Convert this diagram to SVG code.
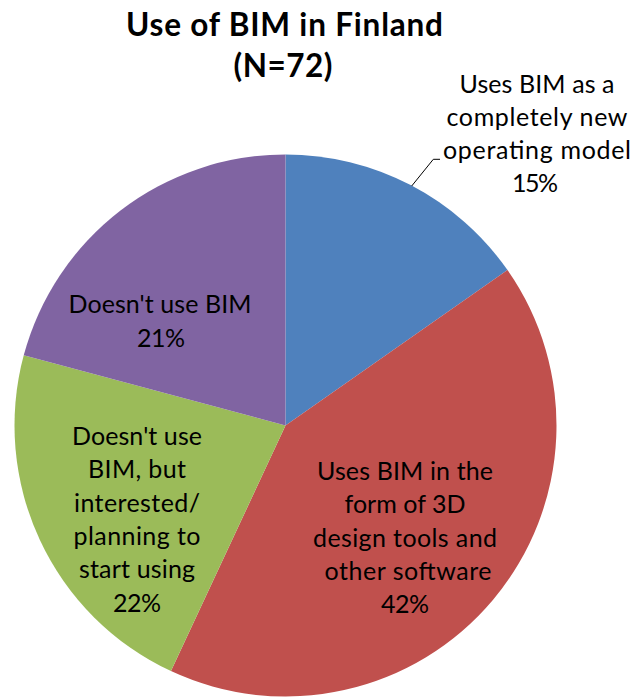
<svg xmlns="http://www.w3.org/2000/svg" width="635" height="697" viewBox="0 0 635 697">
  <style>
    .title { font-family: Lato, "Liberation Sans", sans-serif; font-weight: bold; font-size: 31.5px; fill: #000; text-anchor: middle; }
    .lbl { font-family: Lato, "Liberation Sans", sans-serif; font-size: 25px; fill: #000; text-anchor: middle; }
    .leader { fill: none; stroke: #000; stroke-width: 1; }
  </style>
  <rect width="635" height="697" fill="#fff"/>

  <g id="title">
    <text class="title" x="284.5" y="36" textLength="317" lengthAdjust="spacing">Use of BIM in Finland</text>
    <text class="title" x="283" y="77" textLength="99" lengthAdjust="spacing">(N=72)</text>
  </g>

  <!-- slices, clockwise from 12 o'clock; centre (285.5,425.5), r=271 -->
  <g id="slice-new-operating-model">
    <path fill="#4F81BD" d="M285.5,425.5 L285.5,154.5 A271,271 0 0,1 507.49,270.06 Z"/>
  </g>
  <g id="slice-3d-design-tools">
    <path fill="#C0504D" d="M285.5,425.5 L507.49,270.06 A271,271 0 0,1 170.97,671.11 Z"/>
  </g>
  <g id="slice-interested">
    <path fill="#9BBB59" d="M285.5,425.5 L170.97,671.11 A271,271 0 0,1 23.73,355.36 Z"/>
  </g>
  <g id="slice-no-bim">
    <path fill="#8064A2" d="M285.5,425.5 L23.73,355.36 A271,271 0 0,1 285.5,154.5 Z"/>
  </g>

  <g id="connectors">
    <polyline class="leader" points="411.7,186 433.3,159.3 440,159.3"/>
  </g>

  <g id="label-new-operating-model">
    <text class="lbl" x="537" y="93" textLength="155" lengthAdjust="spacing">Uses BIM as a</text>
    <text class="lbl" x="537" y="126" textLength="181" lengthAdjust="spacing">completely new</text>
    <text class="lbl" x="537" y="159" textLength="188" lengthAdjust="spacing">operating model</text>
    <text class="lbl" x="535" y="192" textLength="46" lengthAdjust="spacing">15%</text>
  </g>
  <g id="label-3d-design-tools">
    <text class="lbl" x="405" y="480" textLength="176" lengthAdjust="spacing">Uses BIM in the</text>
    <text class="lbl" x="405" y="513.3" textLength="121" lengthAdjust="spacing">form of 3D</text>
    <text class="lbl" x="405" y="546.7" textLength="184" lengthAdjust="spacing">design tools and</text>
    <text class="lbl" x="408" y="580" textLength="167" lengthAdjust="spacing">other software</text>
    <text class="lbl" x="405" y="613.3" textLength="48" lengthAdjust="spacing">42%</text>
  </g>
  <g id="label-interested">
    <text class="lbl" x="137" y="445" textLength="130" lengthAdjust="spacing">Doesn't use</text>
    <text class="lbl" x="137" y="478.3" textLength="98" lengthAdjust="spacing">BIM, but</text>
    <text class="lbl" x="137" y="511.7" textLength="126" lengthAdjust="spacing">interested/</text>
    <text class="lbl" x="137" y="545" textLength="127" lengthAdjust="spacing">planning to</text>
    <text class="lbl" x="137" y="578.3" textLength="116" lengthAdjust="spacing">start using</text>
    <text class="lbl" x="137" y="611.7" textLength="48" lengthAdjust="spacing">22%</text>
  </g>
  <g id="label-no-bim">
    <text class="lbl" x="160" y="312.7" textLength="183" lengthAdjust="spacing">Doesn't use BIM</text>
    <text class="lbl" x="161" y="346.7" textLength="48" lengthAdjust="spacing">21%</text>
  </g>
</svg>
